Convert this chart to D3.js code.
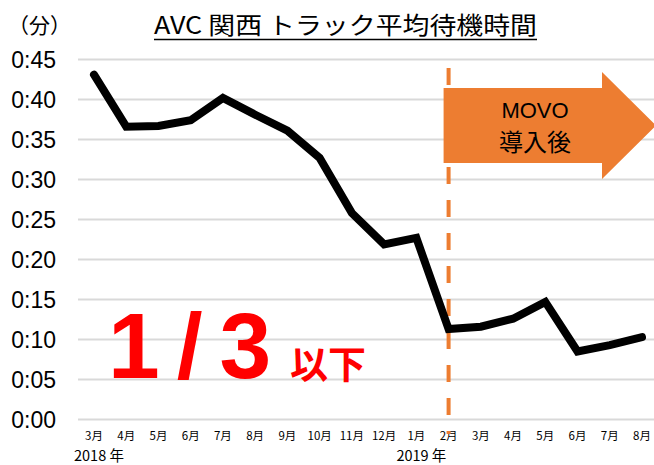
<!DOCTYPE html>
<html lang="ja">
<head>
    <meta charset="UTF-8">
    <script src="https://cdn.jsdelivr.net/npm/d3@7"></script>
    <title>AVC 関西 トラック平均待機時間</title>
    <style>
        html, body {
            margin: 0px;
            padding: 0px;
            background-color: #ffffff;
        }
        svg { display: block; }
    </style>
</head>
<body>
    <div id="chart"></div>

    <script>
        // months along the bottom axis
        let months = ['3月', '4月', '5月', '6月', '7月', '8月', '9月', '10月', '11月', '12月',
                      '1月', '2月', '3月', '4月', '5月', '6月', '7月', '8月'];
        // average waiting time, minutes
        let waitMinutes = [43.1, 36.6, 36.7, 37.4, 40.2, 38.1, 36.1, 32.7, 25.8, 21.9,
                           22.7, 11.3, 11.6, 12.6, 14.7, 8.5, 9.3, 10.3];
        let yTicks = [0, 5, 10, 15, 20, 25, 30, 35, 40, 45];
        let yearLabels = [{ at: 0, text: '2018 年' }, { at: 10, text: '2019 年' }];
        let movoStart = 11; // index of 2019/2月

        let width = 654, height = 465;
        let margin = { top: 59.5, bottom: 45.5, left: 78, right: 0 };

        let svg = d3.select('#chart').append('svg')
            .attr('width', width).attr('height', height);

        let idx = d3.range(months.length);
        let x = d3.scalePoint().domain(idx).range([94, 642]);
        let y = d3.scaleLinear().domain([0, 45]).range([height - margin.bottom, margin.top]);

        // grid
        svg.append('g').selectAll('line')
            .data(yTicks)
            .join('line')
            .attr('x1', margin.left).attr('x2', width)
            .attr('y1', d => y(d)).attr('y2', d => y(d))
            .attr('stroke', '#d9d9d9').attr('stroke-width', 2);

        // y labels
        svg.append('g').selectAll('text')
            .data(yTicks)
            .join('text')
            .attr('x', 56).attr('y', d => y(d))
            .attr('dy', '0.36em')
            .attr('text-anchor', 'end')
            .attr('font-family', '"Liberation Sans", Arial, sans-serif')
            .attr('font-size', 23)
            .attr('fill', '#000')
            .text(d => '0:' + d3.format('02d')(d));

        // month labels
        svg.append('g').selectAll('text')
            .data(idx)
            .join('text')
            .attr('x', i => x(i)).attr('y', 440)
            .attr('text-anchor', 'middle')
            .attr('font-family', '"Noto Sans CJK JP", sans-serif')
            .attr('font-size', 11.5)
            .attr('fill', '#000')
            .text(i => months[i]);

        svg.append('g').selectAll('text')
            .data(yearLabels)
            .join('text')
            .attr('x', d => x(d.at) + 5).attr('y', 460.5)
            .attr('text-anchor', 'middle')
            .attr('font-family', '"Noto Sans CJK JP", sans-serif')
            .attr('font-size', 14.5)
            .attr('fill', '#000')
            .text(d => d.text);

        // dashed divider
        let xm = x(movoStart);
        svg.append('line')
            .attr('x1', xm).attr('x2', xm)
            .attr('y1', 68).attr('y2', 434)
            .attr('stroke', '#ed7d31').attr('stroke-width', 4)
            .attr('stroke-dasharray', '17,16');

        // arrow
        let ax = xm - 5;
        svg.append('path')
            .attr('d', `M${ax},88 L602,88 L602,72 L656,125.5 L602,179 L602,163 L${ax},163 Z`)
            .attr('fill', '#ed7d31');
        svg.append('text')
            .attr('x', 535).attr('y', 118)
            .attr('text-anchor', 'middle')
            .attr('font-family', '"Liberation Sans", Arial, sans-serif')
            .attr('font-size', 22)
            .attr('fill', '#000')
            .text('MOVO');
        svg.append('text')
            .attr('x', 535).attr('y', 151)
            .attr('text-anchor', 'middle')
            .attr('font-family', '"Noto Sans CJK JP", sans-serif')
            .attr('font-size', 24)
            .attr('fill', '#000')
            .text('導入後');

        // line
        let line = d3.line()
            .x((d, i) => x(i))
            .y(d => y(d));
        svg.append('path')
            .datum(waitMinutes)
            .attr('d', line)
            .attr('fill', 'none')
            .attr('stroke', '#000')
            .attr('stroke-width', 8)
            .attr('stroke-linecap', 'round')
            .attr('stroke-linejoin', 'miter');

        // red note
        svg.append('text')
            .attr('x', 108).attr('y', 378)
            .attr('font-family', '"Liberation Sans", Arial, sans-serif')
            .attr('font-weight', 'bold')
            .attr('font-size', 93)
            .attr('letter-spacing', 17)
            .attr('fill', '#ff0000')
            .text('1/3');
        svg.append('text')
            .attr('x', 290).attr('y', 378)
            .attr('font-family', '"Noto Sans CJK JP", sans-serif')
            .attr('font-weight', 'bold')
            .attr('font-size', 38)
            .attr('fill', '#ff0000')
            .text('以下');

        // title
        svg.append('text')
            .attr('x', 8).attr('y', 33)
            .attr('font-family', '"Noto Sans CJK JP", sans-serif')
            .attr('font-size', 21)
            .attr('fill', '#000')
            .text('（分）');
        svg.append('text')
            .attr('x', 154).attr('y', 34)
            .attr('font-family', '"Noto Sans CJK JP", sans-serif')
            .attr('font-size', 24)
            .attr('textLength', 383)
            .attr('lengthAdjust', 'spacingAndGlyphs')
            .attr('fill', '#000')
            .text('AVC 関西 トラック平均待機時間');
        svg.append('line')
            .attr('x1', 154).attr('x2', 537)
            .attr('y1', 39.5).attr('y2', 39.5)
            .attr('stroke', '#000').attr('stroke-width', 1.5);
    </script>
</body>
</html>
